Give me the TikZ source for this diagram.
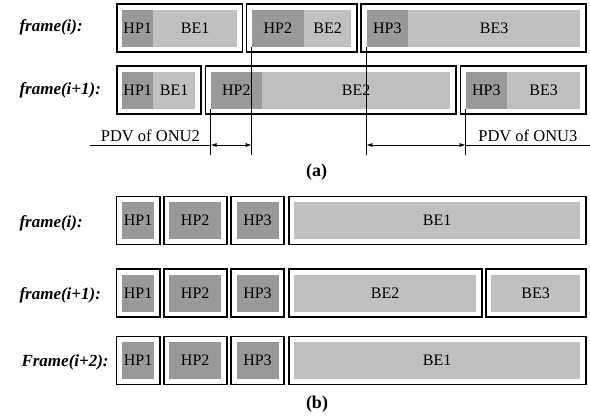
\documentclass[tikz,border=0pt]{standalone}
\usepackage{fontspec}
\setmainfont{Liberation Serif}
\usetikzlibrary{arrows.meta,fit,positioning}
\definecolor{hpgray}{HTML}{999999}
\definecolor{begray}{HTML}{C0C0C0}
\tikzset{
  seg/.style={inner sep=0pt, minimum height=37pt, font=\fontsize{16}{19}\selectfont},
  frm/.style={draw, line width=1.6pt, inner sep=5.3pt},
  lbl/.style={anchor=west, font=\fontsize{17}{20}\selectfont\bfseries\itshape},
  captxt/.style={font=\fontsize{18}{21}\selectfont\bfseries},
  pdv/.style={line width=0.8pt, {Latex[length=6pt,width=4pt]}-{Latex[length=6pt,width=4pt]}}
}

\begin{document}
\begin{tikzpicture}[x=1pt,y=-1pt]
  \useasboundingbox (0,0) rectangle (590,420);
  % (a): frames with the PDV shift
  \foreach \n/\c/\x/\w/\t in {h1/hpgray/122/31/HP1, b1/begray/153/83.7/BE1,
      h2/hpgray/251.7/52/HP2, b2/begray/303.7/47.3/BE2,
      h3/hpgray/366.3/41.7/HP3, b3/begray/408/172/BE3}
    \node[seg, fill=\c, minimum width=\w pt, anchor=west] (a1\n) at (\x,28.3) {\t};
  \foreach \n/\c/\x/\w/\t in {h1/hpgray/122/31/HP1, b1/begray/153/42/BE1,
      h2/hpgray/210.7/51/HP2, b2/begray/261.7/188.3/BE2,
      h3/hpgray/465.7/41/HP3, b3/begray/506.7/73.3/BE3}
    \node[seg, fill=\c, minimum width=\w pt, anchor=west] (a2\n) at (\x,90.3) {\t};
  % outer boxes
  \foreach \r in {1,2}
    \foreach \k in {1,2,3}
      \node[frm, fit=(a\r h\k)(a\r b\k)] (fa\r\k) {};
  \node[lbl] (la1) at (16,27) {frame(i):};
  \node[lbl] (la2) at (16,90) {frame(i+1):};
  % PDV markers
  \coordinate (o2a) at (a2h2.south west |- 0,155);
  \coordinate (o2b) at (a1h2.south west |- 0,155);
  \coordinate (o3a) at (a1h3.south west |- 0,155);
  \coordinate (o3b) at (a2h3.south west |- 0,155);
  \coordinate (e2) at (90,145);
  \coordinate (e3) at (590,145);
  \draw[line width=0.8pt] (a2h2.south west) -- (o2a);
  \draw[line width=0.8pt] (a1h2.south west) -- (o2b);
  \draw[line width=0.8pt] (a1h3.south west) -- (o3a);
  \draw[line width=0.8pt] (a2h3.south west) -- (o3b);
  \draw[pdv] (o2a |- e2) -- (o2b |- e2);
  \draw[pdv] (o3a |- e3) -- (o3b |- e3);
  \draw[line width=0.8pt] (e2) -- node[above, font=\fontsize{16.5}{19}\selectfont] (p2) {PDV of ONU2} (o2a |- e2);
  \draw[line width=0.8pt] (o3b |- e3) -- node[above, font=\fontsize{16.5}{19}\selectfont] (p3) {PDV of ONU3} (e3);
  \node[captxt] (capa) at (316.5,172) {(a)};

  % (b): frames without the shift
  \foreach \r/\y in {1/220.3, 2/293, 3/360.3}
    \foreach \n/\x/\w/\t in {h1/121.7/32.3/HP1, h2/169/52/HP2, h3/236.3/42/HP3} {
      \node[seg, fill=hpgray, minimum width=\w pt, anchor=west] (b\r\n) at (\x,\y) {\t};
      \node[frm, fit=(b\r\n)] (fb\r\n) {};
    }
  \foreach \r/\n/\x/\w/\y/\t in {1/b1/294/286/220.3/BE1, 2/b2/294/182/293/BE2,
      2/b3/491/89/293/BE3, 3/b1/294/286/360.3/BE1} {
    \node[seg, fill=begray, minimum width=\w pt, anchor=west] (b\r\n) at (\x,\y) {\t};
    \node[frm, fit=(b\r\n)] (fb\r\n) {};
  }
  \node[lbl] (lb1) at (16,223) {frame(i):};
  \node[lbl] (lb2) at (16,295) {frame(i+1):};
  \node[lbl] (lb3) at (18,362) {Frame(i+2):};
  \node[captxt] (capb) at (317,404) {(b)};
\end{tikzpicture}
\end{document}
